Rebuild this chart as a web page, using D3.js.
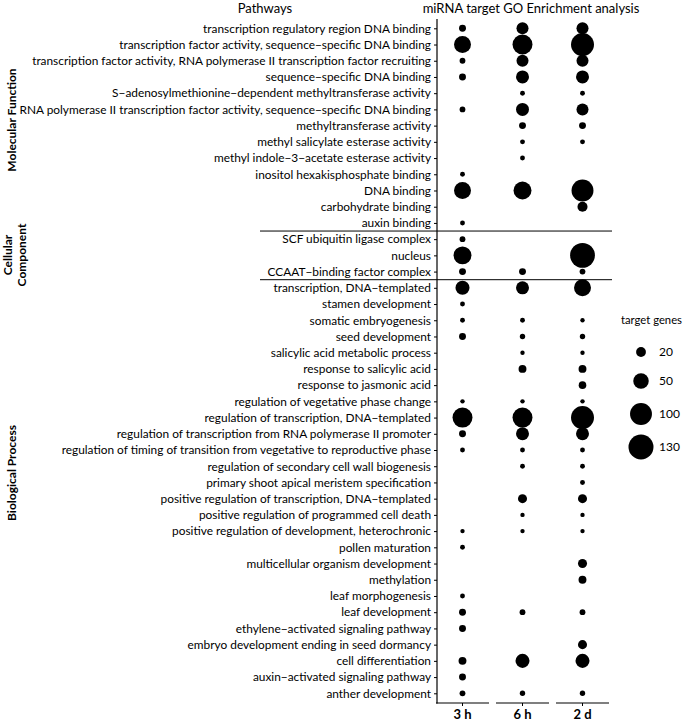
<!DOCTYPE html>
<html><head><meta charset="utf-8">
<script src="https://cdn.jsdelivr.net/npm/d3@7"></script>
<style>
body{margin:0;background:#fff;}
text{font-family:Lato,"Open Sans",sans-serif;fill:#000;}
</style></head>
<body><svg id="c" width="685" height="721"></svg>
<script>
const pathways = [
"transcription regulatory region DNA binding",
"transcription factor activity, sequence\u2212specific DNA binding",
"transcription factor activity, RNA polymerase II transcription factor recruiting",
"sequence\u2212specific DNA binding",
"S\u2212adenosylmethionine\u2212dependent methyltransferase activity",
"RNA polymerase II transcription factor activity, sequence\u2212specific DNA binding",
"methyltransferase activity",
"methyl salicylate esterase activity",
"methyl indole\u22123\u2212acetate esterase activity",
"inositol hexakisphosphate binding",
"DNA binding",
"carbohydrate binding",
"auxin binding",
"SCF ubiquitin ligase complex",
"nucleus",
"CCAAT\u2212binding factor complex",
"transcription, DNA\u2212templated",
"stamen development",
"somatic embryogenesis",
"seed development",
"salicylic acid metabolic process",
"response to salicylic acid",
"response to jasmonic acid",
"regulation of vegetative phase change",
"regulation of transcription, DNA\u2212templated",
"regulation of transcription from RNA polymerase II promoter",
"regulation of timing of transition from vegetative to reproductive phase",
"regulation of secondary cell wall biogenesis",
"primary shoot apical meristem specification",
"positive regulation of transcription, DNA\u2212templated",
"positive regulation of programmed cell death",
"positive regulation of development, heterochronic",
"pollen maturation",
"multicellular organism development",
"methylation",
"leaf morphogenesis",
"leaf development",
"ethylene\u2212activated signaling pathway",
"embryo development ending in seed dormancy",
"cell differentiation",
"auxin\u2212activated signaling pathway",
"anther development"
];
const timepoints = ["3 h","6 h","2 d"];
// target gene counts per pathway (null = not enriched)
const genes3h = [10,60,7,10,null,7,null,null,null,5,60,null,5, 7,67,10, 41,5,5,10,null,null,null,4,83,10,5,null,null,null,null,4,5,null,null,5,10,10,null,13,10,7];
const genes6h = [30,83,30,35,5,35,10,5,5,null,67,null,null, null,null,10, 35,null,5,6,4,13,null,4,83,35,5,5,null,17,4,4,null,null,null,null,7,null,null,41,null,6];
const genes2d = [30,110,30,35,5,30,10,5,null,null,100,21,null, null,128,7, 60,null,4,6,4,13,12,4,110,35,5,5,5,17,4,4,null,17,13,null,7,null,17,41,null,6];
const categories = ["Molecular Function","Cellular Component","Biological Process"];
const categorySizes = [13,3,26];
const legendValues = [20,50,100,130];
const legendTitle = "target genes";
const headerLeft = "Pathways";
const headerRight = "miRNA target GO Enrichment analysis";

const svg = d3.select("#c");
const y = d3.scalePoint().domain(pathways).range([28.3, 693.3]);
const x = d3.scaleBand().domain(timepoints).range([436, 609]).paddingInner(7/60).paddingOuter(0);
const r = d3.scaleSqrt().domain([0,130]).range([0,12.5]);

// headers
svg.append("text").attr("x",265).attr("y",13).attr("text-anchor","middle").style("font-size","13px").text(headerLeft);
svg.append("text").attr("x",531).attr("y",13).attr("text-anchor","middle").style("font-size","13px").text(headerRight);

// y axis
const yAxis = svg.append("g").attr("transform","translate(437,0)")
  .call(d3.axisLeft(y).tickSize(3).tickPadding(3));
yAxis.select(".domain").remove();
yAxis.selectAll("text").style("font-size","12px").style("font-family","Lato");
yAxis.selectAll("line").attr("stroke","#000");
const longest = yAxis.selectAll("text").filter(d=>d===pathways[2]).node();
const w = longest.getComputedTextLength();
yAxis.selectAll("text").style("font-size",(12*399/w)+"px");
svg.append("line").attr("x1",437).attr("x2",437).attr("y1",19).attr("y2",703.5).attr("stroke","#000").attr("stroke-width",1.2);

// x facets axis
timepoints.forEach(t=>{
  const g = svg.append("g");
  const cx = x(t)+x.bandwidth()/2;
  g.append("line").attr("x1",x(t)).attr("x2",x(t)+x.bandwidth()).attr("y1",703).attr("y2",703).attr("stroke","#000").attr("stroke-width",1.2);
  g.append("line").attr("x1",cx).attr("x2",cx).attr("y1",703).attr("y2",706).attr("stroke","#000");
  g.append("text").attr("x",cx).attr("y",719).attr("text-anchor","middle").style("font-size","13px").style("font-weight","bold").text(t);
});

// separators
let acc = 0;
categorySizes.slice(0,-1).forEach(n=>{
  acc += n;
  const yy = (y(pathways[acc-1]) + y(pathways[acc]))/2;
  svg.append("line").attr("x1",260).attr("x2",612).attr("y1",yy).attr("y2",yy).attr("stroke","#000").attr("stroke-width",1);
});

// dots
const series = [genes3h, genes6h, genes2d];
const pts = [];
series.forEach((s,i)=>s.forEach((v,j)=>{ if(v!=null) pts.push({t:timepoints[i], p:pathways[j], v}); }));
svg.append("g").selectAll("circle").data(pts).join("circle")
  .attr("cx",d=>x(d.t)+x.bandwidth()/2).attr("cy",d=>y(d.p)).attr("r",d=>r(d.v)).attr("fill","#000");

// category strip labels
const stripPos = [{x:12,y:120,lines:["Molecular Function"]},{x:8,y:255,lines:["Cellular","Component"]},{x:12,y:473,lines:["Biological Process"]}];
categories.forEach((c,i)=>{
  const s = stripPos[i];
  const t = svg.append("text").attr("transform",`translate(${s.x},${s.y}) rotate(-90)`).attr("text-anchor","middle")
    .style("font-size","12px").style("font-weight","bold");
  if(s.lines.length===1){ t.attr("dy","0.35em").text(c); }
  else { s.lines.forEach((l,k)=>t.append("tspan").attr("x",0).attr("dy",k===0?"0.35em":"1.15em").text(l)); }
});

// legend
const lt = svg.append("text").attr("x",621).attr("y",324).style("font-size","12px").text(legendTitle);
const ltw = lt.node().getComputedTextLength();
if (ltw > 61) lt.style("font-size",(12*61/ltw)+"px");
const ly = [352,381,414,447];
legendValues.forEach((v,i)=>{
  svg.append("circle").attr("cx",641).attr("cy",ly[i]).attr("r",r(v)).attr("fill","#000");
  svg.append("text").attr("x",659).attr("y",ly[i]).attr("dy","0.35em").style("font-size","12px").text(v);
});
</script></body></html>
